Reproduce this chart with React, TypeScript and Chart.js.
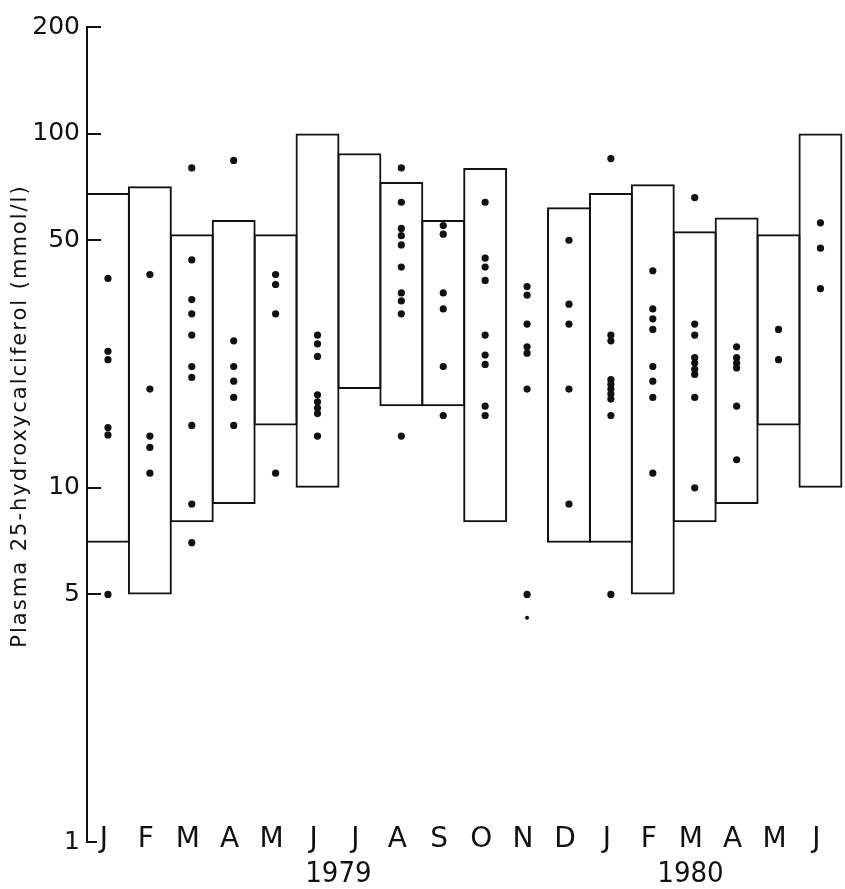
import React, { useEffect, useRef } from 'react';
import { Chart, registerables } from 'chart.js';

Chart.register(...registerables);

// ---- data ----
const categories = [
  'Jan 1979', 'Feb 1979', 'Mar 1979', 'Apr 1979', 'May 1979', 'Jun 1979',
  'Jul 1979', 'Aug 1979', 'Sep 1979', 'Oct 1979', 'Nov 1979', 'Dec 1979',
  'Jan 1980', 'Feb 1980', 'Mar 1980', 'Apr 1980', 'May 1980', 'Jun 1980',
];
const monthLetters = ['J', 'F', 'M', 'A', 'M', 'J', 'J', 'A', 'S', 'O', 'N', 'D', 'J', 'F', 'M', 'A', 'M', 'J'];

// reference range boxes (low / high), none for November
const boxLow = [7, 5, 8, 9, 15, 10, 19, 17, 17, 8, null, 7, 7, 5, 8, 9, 15, 10];
const boxHigh = [68, 71, 52, 57, 52, 100, 88, 73, 57, 80, null, 62, 68, 72, 53, 58, 52, 100];

// individual measurements per month
const pointValues: number[][] = [
  [39, 24.3, 23, 14.8, 14.1, 5],
  [40, 19, 14, 13, 11],
  [80, 44, 34, 31, 27, 22, 20.5, 15, 9, 7],
  [84, 26, 22, 20, 18, 15],
  [40, 37.5, 31, 11],
  [27, 25.5, 23.5, 18.3, 17.5, 16.8, 16.2, 14],
  [],
  [80, 64, 54, 51.5, 48.5, 42, 35.5, 33.7, 31, 14],
  [55, 52, 35.5, 32, 22, 16],
  [64, 44.5, 42, 38.5, 27, 23.7, 22.3, 17, 16],
  [37, 35, 29, 25, 24, 19, 5, 4.3],
  [50, 33, 29, 19, 9],
  [85, 27, 26, 20.2, 19.6, 19, 18.4, 17.8, 16, 5],
  [41, 32, 30, 28, 22, 20, 18, 11],
  [66, 29, 27, 23.3, 22.5, 21.6, 20.9, 18, 10],
  [25, 23.3, 22.5, 21.8, 17, 12],
  [28, 23],
  [56, 47.5, 36.5],
];

const yTickValues = [1, 5, 10, 50, 100, 200];
const yearLabels = ['1979', '1980'];
const yearAnchors = [5.5, 13.9]; // category index the year label sits under
const yTitle = 'Plasma 25-hydroxycalciferol (mmol/l)';

const INK = '#111111';

const decorPlugin = {
  id: 'decor',
  afterDraw(chart: any) {
    const { ctx, chartArea, scales } = chart;
    const y = scales.y;
    const x = scales.x;
    ctx.save();
    // inward tick marks
    ctx.strokeStyle = INK;
    ctx.lineWidth = 2;
    ctx.beginPath();
    yTickValues.forEach((v) => {
      const py = Math.round(y.getPixelForValue(v));
      ctx.moveTo(chartArea.left - 1, py);
      ctx.lineTo(chartArea.left + (v === 1 ? 10 : 14), py);
    });
    ctx.stroke();

    // month letters along the bottom
    ctx.fillStyle = INK;
    ctx.textAlign = 'center';
    ctx.textBaseline = 'middle';
    ctx.font = "28px 'DejaVu Sans', sans-serif";
    monthLetters.forEach((m, i) => {
      ctx.fillText(m, x.getPixelForValue(i) - 4, chartArea.bottom - 2);
    });

    // year labels
    ctx.font = "29px 'Liberation Sans Narrow', 'DejaVu Sans Condensed', sans-serif";
    yearLabels.forEach((lab, i) => {
      ctx.fillText(lab, x.getPixelForValue(yearAnchors[i]), 874);
    });

    // y-axis title
    ctx.translate(21, 416);
    ctx.rotate(-Math.PI / 2);
    ctx.font = "21px 'DejaVu Sans', sans-serif";
    try { (ctx as any).letterSpacing = '2px'; } catch (e) {}
    ctx.fillText(yTitle, 0, 0);
    ctx.restore();
  },
};

export default function App() {
  const canvasRef = useRef<HTMLCanvasElement | null>(null);

  useEffect(() => {
    const canvas = canvasRef.current;
    if (!canvas) return;

    const boxData = boxLow.map((lo, i) => (lo == null || boxHigh[i] == null ? null : [lo, boxHigh[i]]));
    const pointData = pointValues.flatMap((vals, i) => vals.map((v) => ({ x: categories[i], y: v })));

    const chart = new Chart(canvas, {
      type: 'bar',
      data: {
        labels: categories,
        datasets: [
          {
            type: 'line',
            data: pointData as any,
            showLine: false,
            pointRadius: (c: any) => (c.raw && c.raw.y < 4.6 ? 2 : 3.6),
            pointBackgroundColor: INK,
            pointBorderWidth: 0,
            pointHoverRadius: 3.6,
            order: 1,
          } as any,
          {
            type: 'bar',
            data: boxData as any,
            backgroundColor: 'rgba(0,0,0,0)',
            borderColor: INK,
            borderWidth: 2,
            borderSkipped: false,
            barPercentage: 1 + 2 / 42,
            categoryPercentage: 1,
            clip: false,
            order: 2,
          } as any,
        ],
      },
      options: {
        animation: false,
        responsive: false,
        events: [],
        layout: { padding: { top: 27, right: 1, bottom: 0, left: 0 } },
        plugins: { legend: { display: false }, tooltip: { enabled: false } },
        scales: {
          x: {
            type: 'category',
            offset: true,
            grid: { display: false, drawTicks: false },
            border: { display: false },
            ticks: { display: false },
            afterFit: (s: any) => { s.height = 47; },
          },
          y: {
            type: 'logarithmic',
            min: 1,
            max: 200,
            grid: { display: false, drawTicks: false },
            border: { display: true, color: INK, width: 2 },
            afterBuildTicks: (s: any) => { s.ticks = yTickValues.map((v) => ({ value: v })); },
            ticks: {
              padding: 7,
              color: INK,
              font: { family: "'DejaVu Sans', sans-serif", size: 25, lineHeight: 1 },
              callback: (v: any) => String(v),
            },
            afterFit: (s: any) => { s.width = 87; },
          },
        },
      },
      plugins: [decorPlugin],
    });

    return () => chart.destroy();
  }, []);

  return (
    <div style={{ position: 'absolute', left: 0, top: 0, width: 845, height: 889, background: '#fff' }}>
      <canvas ref={canvasRef} width={845} height={889} style={{ display: 'block' }} />
    </div>
  );
}
